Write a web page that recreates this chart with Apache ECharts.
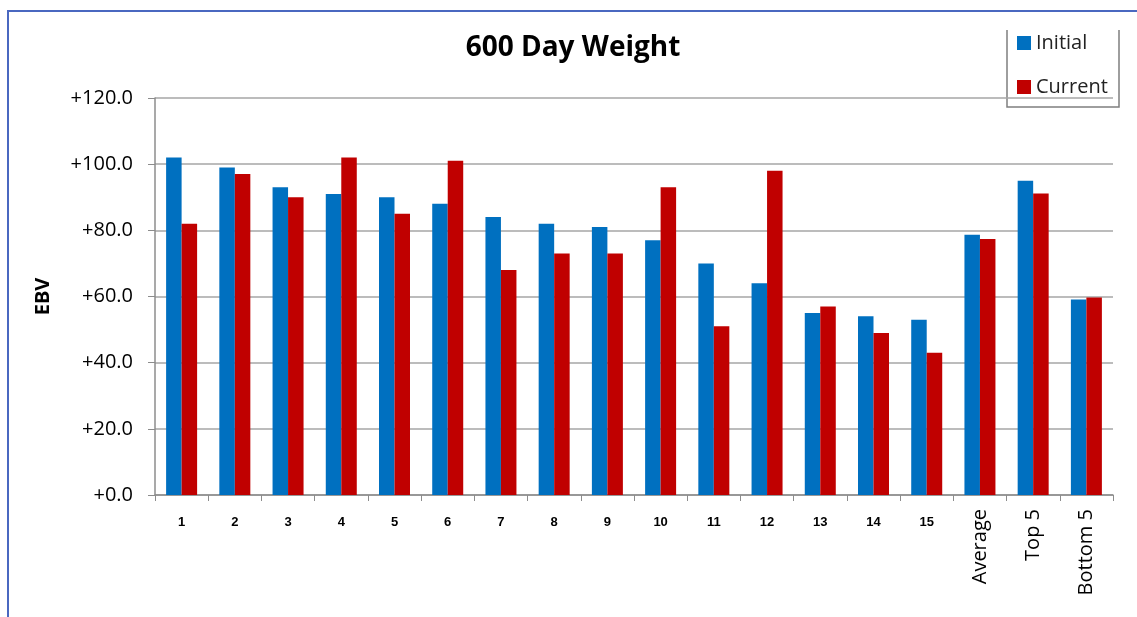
<!DOCTYPE html>
<html>
<head>
<meta charset="utf-8">
<script src="https://cdn.jsdelivr.net/npm/echarts@6/dist/echarts.min.js"></script>
<style>
  html, body { margin: 0; padding: 0; background: #fff; }
  #frame {
    position: absolute; left: 7px; top: 10px; width: 1130px; height: 607px;
    border-left: 2px solid #4a68c0; border-top: 2px solid #4a68c0;
    box-sizing: border-box;
  }
  #chart { position: absolute; left: 0; top: 0; width: 1137px; height: 617px; }
</style>
</head>
<body>
<div id="frame"></div>
<div id="chart"></div>
<script>
const categories = ["1", "2", "3", "4", "5", "6", "7", "8", "9", "10", "11", "12", "13", "14", "15", "Average", "Top 5", "Bottom 5"]
const initialValues = [102, 99, 93, 91, 90, 88, 84, 82, 81, 77, 70, 64, 55, 54, 53, 78.7, 95, 59.1]
const currentValues = [82, 97, 90, 102, 85, 101, 68, 73, 73, 93, 51, 98, 57, 49, 43, 77.4, 91.1, 59.7]
const summaryLabels = ["Average", "Top 5", "Bottom 5"]

const myChart = echarts.init(document.getElementById("chart"))

const option = {
  animation: false,
  color: ["#0070c0", "#c00000"],
  title: {
    text: "600 Day Weight",
    left: 568,
    top: 29,
    textAlign: "center",
    textStyle: {fontFamily: "Open Sans", fontSize: 28, fontWeight: "bold", color: "#000"},
  },
  legend: {
    orient: "vertical",
    left: 1011,
    top: 29,
    padding: [4, 8, 8, 6],
    itemWidth: 14,
    itemHeight: 14,
    itemGap: 24,
    icon: "rect",
    textStyle: {fontFamily: "Open Sans", fontSize: 20, color: "#222", padding: [0, 0, 0, 0]},
  },
  // legend box: top edge is cut off in the original
  graphic: [{
    type: "polyline",
    shape: {points: [[1007, 30], [1007, 107], [1119, 107], [1119, 30]]},
    style: {stroke: "#7f7f7f", lineWidth: 1.5, fill: null},
  }],
  grid: {left: 155, right: 24, top: 98, bottom: 122},
  xAxis: [
    {
      type: "category",
      data: categories,
      axisLine: {lineStyle: {color: "#8c8c8c", width: 1.5}},
      axisTick: {show: true, interval: 0, length: 6, lineStyle: {color: "#8c8c8c"}},
      axisLabel: {
        interval: 0,
        margin: 21,
        fontFamily: "Liberation Sans",
        fontSize: 13,
        fontWeight: "bold",
        color: "#000",
        formatter: v => summaryLabels.includes(v) ? "" : v,
      },
    },
    {
      type: "category",
      data: categories,
      position: "bottom",
      axisLine: {show: false},
      axisTick: {show: false},
      axisLabel: {
        interval: 0,
        rotate: 90,
        margin: 14,
        fontFamily: "Open Sans",
        fontSize: 20,
        color: "#000",
        formatter: v => summaryLabels.includes(v) ? v : "",
      },
    },
  ],
  yAxis: {
    type: "value",
    min: 0,
    max: 120,
    interval: 20,
    name: "EBV",
    nameLocation: "middle",
    nameGap: 102,
    nameTextStyle: {fontFamily: "Open Sans", fontSize: 20, fontWeight: "bold", color: "#000"},
    axisLine: {show: true, lineStyle: {color: "#8c8c8c", width: 1.5}},
    axisTick: {show: true, length: 7, lineStyle: {color: "#8c8c8c"}},
    axisLabel: {
      margin: 22,
      fontFamily: "Open Sans",
      fontSize: 20,
      color: "#000",
      formatter: v => "+" + v.toFixed(1),
    },
    splitLine: {lineStyle: {color: "#a6a6a6", width: 1.5}},
  },
  series: [
    {name: "Initial", type: "bar", data: initialValues, barWidth: 15.5, barGap: "0%"},
    {name: "Current", type: "bar", data: currentValues, barWidth: 15.5, barGap: "0%"},
  ],
}

myChart.setOption(option)
</script>
</body>
</html>
